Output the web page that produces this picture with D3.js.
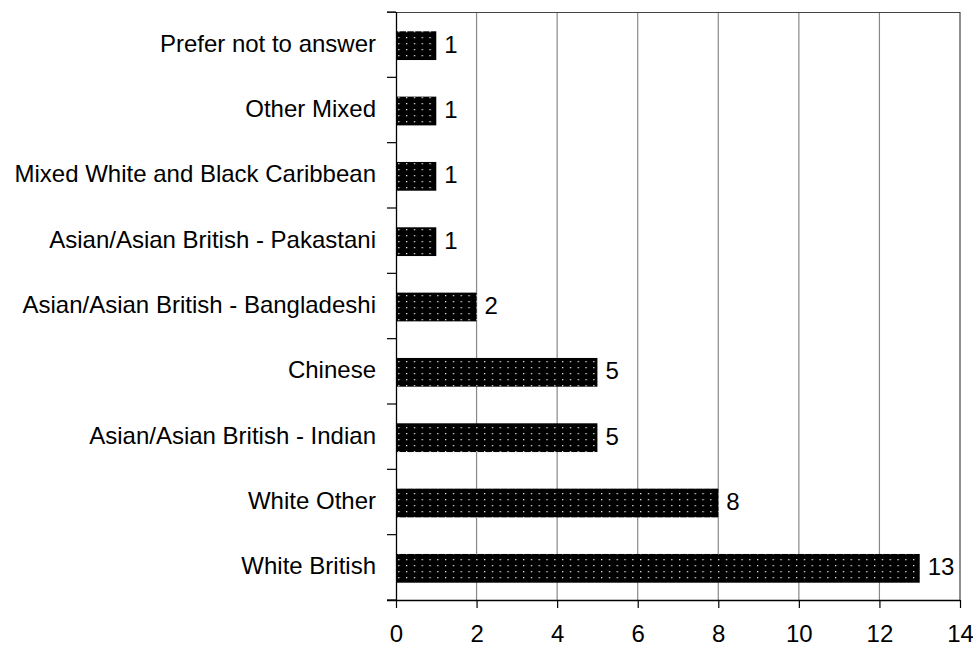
<!DOCTYPE html>
<html>
<head>
<meta charset="utf-8">
<script src="https://cdn.jsdelivr.net/npm/d3@7"></script>
<style>
  body { margin: 0; background: #fff; }
  svg text { font-family: "Liberation Sans", Arial, sans-serif; fill: #000; }
</style>
</head>
<body>
<div id="chart"></div>
<script>
// categories top to bottom, and their counts
const categories = [
  'Prefer not to answer',
  'Other Mixed',
  'Mixed White and Black Caribbean',
  'Asian/Asian British - Pakastani',
  'Asian/Asian British - Bangladeshi',
  'Chinese',
  'Asian/Asian British - Indian',
  'White Other',
  'White British'
];
const counts = [1, 1, 1, 1, 2, 5, 5, 8, 13];
const xTicks = [0, 2, 4, 6, 8, 10, 12, 14];

const W = 973, H = 646;
const margin = {top: 12, right: 13, bottom: 46, left: 396};
const width = W - margin.left - margin.right;   // 564
const height = H - margin.top - margin.bottom;  // 588

const svg = d3.select('#chart').append('svg')
  .attr('width', W)
  .attr('height', H);

// dotted black fill
const pat = svg.append('defs').append('pattern')
  .attr('id', 'dots')
  .attr('patternUnits', 'userSpaceOnUse')
  .attr('x', margin.left + 4)
  .attr('y', 1)
  .attr('width', 7.8)
  .attr('height', 6);
pat.append('rect').attr('width', 7.8).attr('height', 6).attr('fill', '#000');
pat.append('rect').attr('x', 0).attr('y', 0).attr('width', 1.3).attr('height', 1.3).attr('fill', '#e0e0e0');

const g = svg.append('g')
  .attr('transform', `translate(${margin.left},${margin.top})`);

const x = d3.scaleLinear().domain([0, 14]).range([0, width]);
const y = d3.scaleBand().domain(categories).range([0, height]).paddingInner(0.56).paddingOuter(0.28);

// vertical grid lines
g.append('g')
  .selectAll('line')
  .data(xTicks.slice(1))
  .join('line')
  .attr('x1', d => x(d)).attr('x2', d => x(d))
  .attr('y1', 0).attr('y2', height)
  .attr('stroke', d => d === 14 ? '#444' : '#888')
  .attr('stroke-width', 1.2);

// top frame line, starting at the tick stub
g.append('line')
  .attr('x1', -9).attr('x2', width)
  .attr('y1', 0.5).attr('y2', 0.5)
  .attr('stroke', '#444')
  .attr('stroke-width', 1.2);

// bars
g.append('g')
  .selectAll('rect')
  .data(counts)
  .join('rect')
  .attr('x', 0)
  .attr('y', (d, i) => y(categories[i]) + 1)
  .attr('width', d => x(d))
  .attr('height', y.bandwidth())
  .attr('fill', 'url(#dots)');

// band centre helper
const mid = c => y(c) - y.step() * y.paddingInner() / 2 + y.step() / 2;

// value labels
g.append('g')
  .selectAll('text')
  .data(counts)
  .join('text')
  .attr('x', d => x(d) + 8)
  .attr('y', (d, i) => mid(categories[i]) + 8)
  .style('font-size', '24px')
  .text(d => d);

// y axis: ticks sit on category boundaries
const bounds = d3.range(categories.length + 1).map(i => i * y.step());
const yAxis = g.append('g');
yAxis.append('line')
  .attr('x1', 0.5).attr('x2', 0.5)
  .attr('y1', 0).attr('y2', height + 0.5)
  .attr('stroke', '#000').attr('stroke-width', 1.3);
yAxis.selectAll('.tick')
  .data(bounds)
  .join('line')
  .attr('class', 'tick')
  .attr('x1', -9).attr('x2', 0)
  .attr('y1', d => d).attr('y2', d => d)
  .attr('stroke', '#000').attr('stroke-width', 1.2);
yAxis.selectAll('text')
  .data(categories)
  .join('text')
  .attr('x', -20)
  .attr('y', d => mid(d) + 7)
  .attr('text-anchor', 'end')
  .style('font-size', '24px')
  .text(d => d);

// x axis
const xAxis = g.append('g')
  .attr('transform', `translate(0,${height})`)
  .call(d3.axisBottom(x).tickValues(xTicks).tickSize(8).tickSizeOuter(0).tickPadding(17));
xAxis.select('.domain').attr('stroke-width', 1.3).attr('d', `M-9,0.5H${width}`);
xAxis.selectAll('.tick line').attr('stroke-width', 1.2);
xAxis.selectAll('.tick text')
  .style('font-size', '24px')
  .style('font-family', '"Liberation Sans", Arial, sans-serif');
</script>
</body>
</html>
